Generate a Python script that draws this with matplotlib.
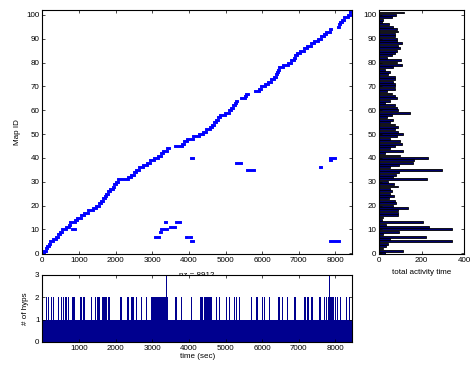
import numpy as np
import matplotlib.pyplot as plt

plt.rcParams['font.family'] = ['Liberation Sans', 'DejaVu Sans']
plt.rcParams['font.size'] = 5.8

# main track: start time (sec) for each map ID 0..101, last value = end of run
track_start = [0, 60, 100, 140, 180, 210, 300, 370, 430, 480,
               530, 660, 720, 760, 890, 960, 1050, 1150, 1240, 1380,
               1470, 1540, 1600, 1650, 1700, 1750, 1800, 1850, 1920, 1970,
               2020, 2070, 2350, 2420, 2500, 2570, 2650, 2740, 2850, 2930,
               3040, 3150, 3230, 3300, 3400, 3620, 3800, 3880, 3960, 4120,
               4280, 4380, 4480, 4580, 4630, 4680, 4740, 4800, 4850, 4990,
               5100, 5160, 5210, 5250, 5290, 5420, 5530, 5570, 5800, 5900,
               5980, 6080, 6170, 6240, 6310, 6370, 6410, 6440, 6470, 6570,
               6700, 6780, 6860, 6900, 6960, 7030, 7130, 7230, 7330, 7420,
               7510, 7600, 7680, 7740, 7850, 8060, 8090, 8120, 8170, 8220,
               8330, 8390, 8450]
# where a map stops before the next one starts
track_end_override = {44: 3450, 64: 5320, 67: 5610, 94: 7890}

# other hypotheses: (map id, start, end)
side_ids = [10, 7, 9, 10, 13, 11, 13, 7, 7, 5, 40, 38, 35, 36, 40, 39, 5]
side_t0 = [800, 3080, 3210, 3250, 3350, 3480, 3660, 3930, 4020, 4070, 4070,
           5290, 5580, 7580, 7840, 7850, 7840]
side_t1 = [890, 3190, 3250, 3400, 3370, 3620, 3760, 3960, 4060, 4100, 4100,
           5430, 5790, 7600, 8000, 7870, 8090]

# total activity time per map ID 0..101
activity = [30, 115, 20, 35, 40, 345, 50, 220, 20, 95,
            345, 235, 35, 205, 15, 20, 88, 90, 90, 135,
            65, 80, 75, 45, 70, 50, 60, 50, 90, 70,
            40, 228, 65, 80, 95, 295, 50, 95, 160, 165,
            230, 98, 28, 114, 52, 75, 106, 98, 52, 83,
            114, 90, 75, 90, 75, 52, 67, 36, 60, 145,
            90, 86, 75, 28, 52, 83, 75, 60, 36, 75,
            75, 75, 67, 75, 75, 44, 52, 28, 67, 106,
            83, 103, 36, 60, 75, 83, 101, 90, 106, 83,
            83, 75, 75, 90, 83, 67, 45, 12, 20, 60,
            80, 117]

# number of hypotheses: moments with 2, blocks with 2, moments with 3
two_hyp_times = [70, 110, 160, 200, 250, 300, 340, 390, 440, 480, 520, 570,
                 620, 660, 700, 720, 750, 780, 800, 820, 850, 870, 890,
                 1030, 1060, 1120, 1150, 1300, 1330, 1440, 1460, 1480, 1500,
                 1530, 1550, 1570, 1600, 1620, 1640, 1660, 1690, 1710, 1730,
                 1750, 1780, 1800, 1820, 1840, 1870, 1890, 1980, 2120, 2150,
                 2300, 2320, 2340, 2360, 2390, 2410, 2430, 2450, 2480, 2500,
                 2570, 2600, 2660, 2700, 2800, 2840, 2880,
                 3620, 3650, 3700, 3745, 3790, 3835, 3970, 4000, 4060, 4290,
                 4310, 4330, 4360, 4380, 4425, 4450, 4470, 4500, 4520, 4560,
                 4590, 4610, 4650, 4680, 4700, 4740, 4790, 4830, 4925, 5015,
                 5105, 5140, 5195, 5240, 5290, 5310, 5380, 5520, 5700,
                 5830, 5870, 5960, 6000, 6020, 6050, 6100, 6190, 6230, 6420,
                 6440, 6460, 6500, 6550, 6640, 6690, 6780, 6870, 6900, 7000,
                 7140, 7160, 7180, 7230, 7250, 7270, 7320, 7340, 7360, 7410,
                 7460, 7550, 7590, 7680, 7700, 7750,
                 7990, 8050, 8130, 8200, 8300, 8370]
two_hyp_blocks = [(2970, 3420), (7800, 7950)]
three_hyp_times = [3370, 7820]

t_max = 8450
blue = '#0000ff'
navy = '#00008f'

fig = plt.figure(figsize=(4.71, 3.69), dpi=100)
ax = fig.add_axes([0.0898, 0.3117, 0.6575, 0.661])
ax_r = fig.add_axes([0.8047, 0.3117, 0.1805, 0.661])
ax_h = fig.add_axes([0.0898, 0.0732, 0.6575, 0.1816])

# main map ID plot
ids = np.arange(len(track_start) - 1)
t0 = np.array(track_start[:-1])
t1 = np.array([track_end_override.get(i, track_start[i + 1]) for i in ids])
for yy, xa, xb in ((ids, t0, t1), (side_ids, side_t0, side_t1)):
    lc = ax.hlines(yy, xa, xb, colors=blue, lw=2.1)
    lc.set_capstyle('projecting')
ax.set_xlim(0, t_max)
ax.set_ylim(-0.3, 102)
ax.set_xticks(np.arange(0, 8001, 1000))
ax.set_yticks(np.arange(0, 101, 10))
ax.set_ylabel('Map ID')
ax.set_xlabel('nz = 8912', labelpad=6)

# activity per map
ax_r.barh(np.arange(len(activity)), activity, height=0.8,
          color='#00006b', edgecolor='black', lw=0.6)
ax_r.set_xlim(0, 400)
ax_r.set_ylim(-0.3, 102)
ax_r.set_xticks([0, 200, 400])
ax_r.set_yticks(np.arange(0, 101, 10))
ax_r.set_xlabel('total activity time')

# number of hypotheses over time
ax_h.bar(0, 1, width=t_max, align='edge', color=navy, lw=0)
ax_h.bar(two_hyp_times, 2, width=16, align='edge', color=navy, lw=0)
for b0, b1 in two_hyp_blocks:
    ax_h.bar(b0, 2, width=b1 - b0, align='edge', color=navy, lw=0)
ax_h.bar(three_hyp_times, 3, width=25, align='edge', color=navy, lw=0)
ax_h.set_xlim(1, t_max)
ax_h.set_ylim(0, 3)
ax_h.set_xticks(np.arange(1000, 8001, 1000))
ax_h.set_yticks([0, 1, 2, 3])
ax_h.set_ylabel('# of hyps')
ax_h.set_xlabel('time (sec)', labelpad=1)

for a in (ax, ax_r, ax_h):
    a.tick_params(direction='in', top=True, right=True, length=2.5,
                  width=0.5, pad=2, labelsize=5.8)
    for s in a.spines.values():
        s.set_linewidth(0.8)
ax_h.set_zorder(3)

fig.savefig('out.png', dpi=100)
